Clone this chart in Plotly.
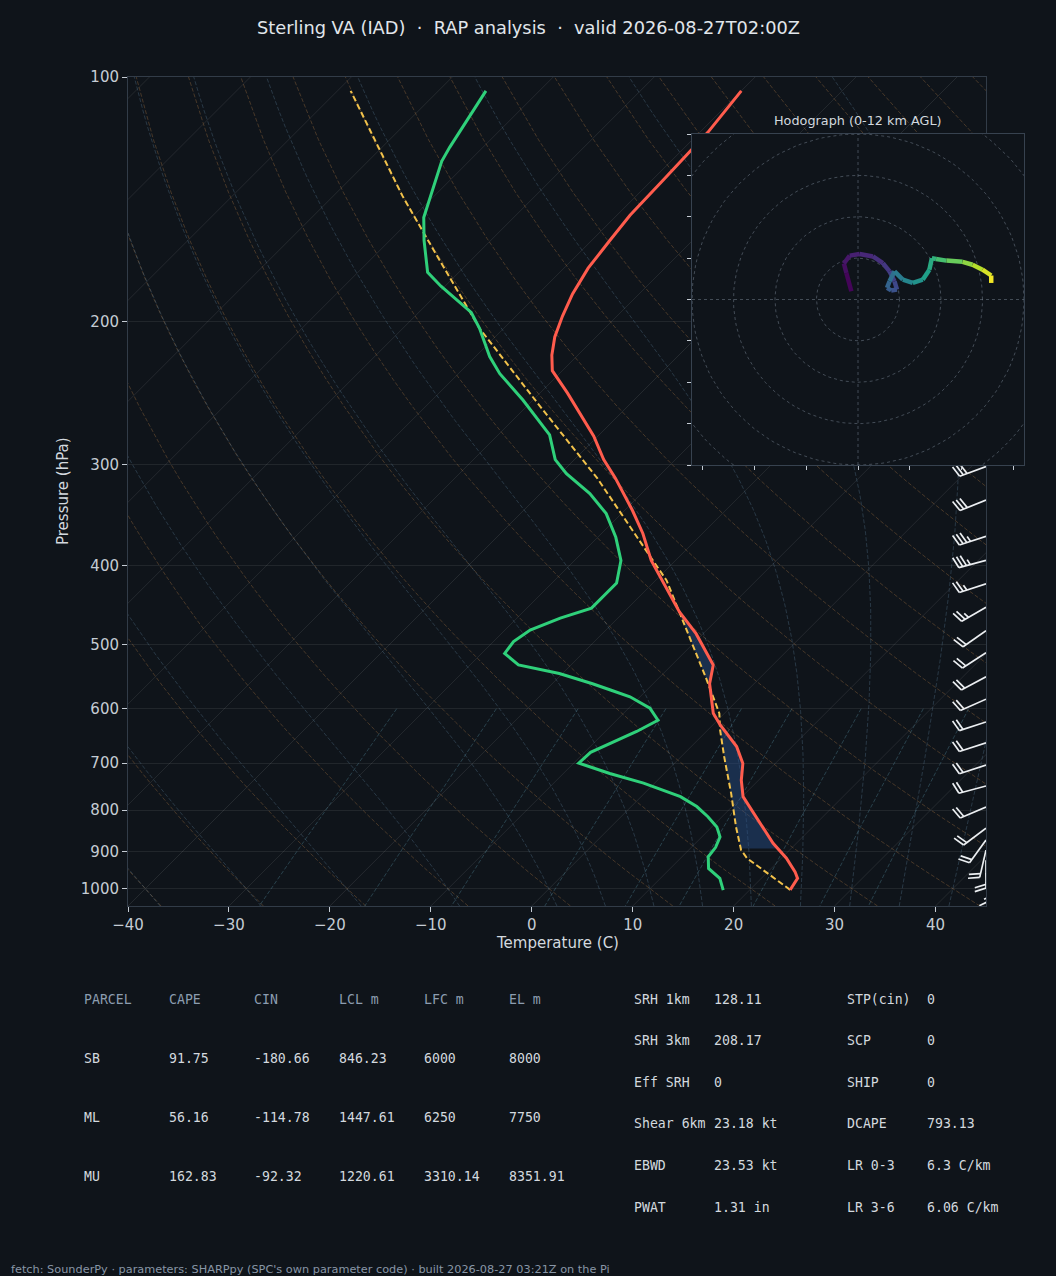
import numpy as np
import plotly.graph_objects as go
from plotly.colors import sample_colorscale

# ---------------- sounding values ----------------
temp_p = [1003, 971, 953, 917, 879, 807, 770, 735, 701, 668, 628, 608, 559, 530,
          485, 456, 420, 394, 365, 342, 312, 296, 277, 262, 245, 230, 220, 209,
          197, 185, 172, 159, 148, 134, 124, 117, 104]
temp_c = [24.0, 23.6, 22.7, 20.5, 17.7, 12.8, 10.1, 8.3, 6.8, 4.5, 0.7, -1.1, -4.4, -5.9,
          -10.7, -14.5, -18.9, -22.4, -25.9, -29.2, -34.1, -37.1, -40.4, -43.5, -47.3, -51.0, -52.6, -54.1,
          -55.4, -56.6, -57.6, -58.2, -58.7, -58.9, -59.1, -59.2, -60.0]

dwpt_p = [1004, 971, 944, 913, 889, 863, 839, 815, 792, 770, 741, 721, 700, 679,
          640, 620, 599, 580, 569, 559, 543, 530, 513, 496, 480, 464, 451, 420,
          394, 369, 345, 326, 308, 296, 276, 250, 232, 221, 204, 195, 181, 174,
          159, 149, 127, 122, 104]
dwpt_c = [17.4, 15.9, 13.8, 12.6, 12.4, 11.8, 10.5, 8.6, 6.5, 3.9, -1.1, -5.4, -9.5, -9.4,
          -6.9, -5.9, -7.9, -11.0, -13.6, -16.0, -20.3, -25.2, -27.7, -28.0, -27.5, -25.7, -23.6, -23.6,
          -25.4, -28.2, -31.5, -35.1, -39.4, -41.9, -44.9, -51.0, -55.9, -58.6, -62.4, -64.8, -70.4, -73.1,
          -76.6, -78.9, -82.7, -83.3, -85.3]

parcel_p = [1003, 917, 896, 839, 763, 688, 637, 608, 548, 494, 462, 417, 383, 342,
            312, 254, 204, 157, 140, 104]
parcel_c = [24.0, 16.6, 15.2, 12.4, 8.6, 4.3, 1.2, -0.5, -5.5, -10.6, -13.9, -18.9, -23.9, -30.5,
            -35.9, -48.8, -62.4, -76.9, -83.2, -98.7]

# CIN shading from LCL up to LFC (hPa)
shade_bot = 892
shade_top = 456

# wind barbs (hPa, direction from, kt)
barb_p = [302, 332, 368, 394, 421, 450, 481, 512, 548, 584, 623, 661, 704, 747,
          793, 842, 871, 896, 922, 956, 981]
barb_dir = [250, 248, 252, 255, 252, 240, 235, 237, 242, 246, 252, 252, 252, 255,
            247, 233, 216, 193, 180, 172, 155]
barb_kt = [30, 30, 35, 35, 25, 25, 20, 20, 20, 20, 20, 20, 20, 20,
           20, 20, 20, 20, 20, 15, 15]

# hodograph (kt) and height (km AGL)
hodo_u = [-1.6, -2.8, -3.4, -2.0, 0.4, 3.6, 6.0, 7.6, 8.8, 9.4, 8.0, 7.0, 7.6,
          8.8, 10.8, 13.2, 15.6, 17.2, 17.8, 18.8, 21.3, 25.2, 27.6, 30.0, 32.1, 32.1]
hodo_v = [2.0, 6.4, 8.7, 10.6, 11.0, 10.4, 8.8, 6.8, 4.4, 2.4, 2.2, 2.8, 4.4,
          6.8, 4.8, 4.0, 4.8, 7.2, 10.0, 9.8, 9.4, 9.1, 8.4, 7.2, 5.8, 4.0]
hodo_z = [0.0, 0.3, 0.6, 0.9, 1.2, 1.5, 1.8, 2.1, 2.4, 2.8, 3.2, 3.6, 4.0,
          4.6, 5.2, 5.8, 6.4, 7.0, 7.5, 8.0, 8.8, 9.6, 10.3, 11.0, 11.6, 12.0]

# parameter tables
parcel_names = ["SB", "ML", "MU"]
cape = [91.75, 56.16, 162.83]
cin = [-180.66, -114.78, -92.32]
lcl_m = [846.23, 1447.61, 1220.61]
lfc_m = [6000, 6250, 3310.14]
el_m = [8000, 7750, 8351.91]

kin_names = ["SRH 1km", "SRH 3km", "Eff SRH", "Shear 6km", "EBWD", "PWAT"]
kin_vals = ["128.11", "208.17", "0", "23.18 kt", "23.53 kt", "1.31 in"]
thermo_names = ["STP(cin)", "SCP", "SHIP", "DCAPE", "LR 0-3", "LR 3-6"]
thermo_vals = ["0", "0", "0", "793.13", "6.3 C/km", "6.06 C/km"]

# ---------------- geometry ----------------
W, H = 1056, 1276
X0, X1, Y0, Y1 = 128, 986, 77, 906          # skew-T plot box (px)
HX0, HX1, HY0, HY1 = 692, 1024, 134, 465     # hodograph box (px)
T_MIN, T_MAX = -40, 45
P_BOT, P_TOP = 1050.0, 100.0
PLOT_W, PLOT_H = X1 - X0, Y1 - Y0
DEC = np.log10(P_BOT / P_TOP)
SKEW = (PLOT_H / DEC) * ((T_MAX - T_MIN) / PLOT_W)   # 45 degree skew

BG = "#0f141a"
TXT = "#d3d9df"
TICK = "#c5ccd4"
HEAD = "#8c9db0"
SPINE = "#323c48"


def skx(t, p):
    return np.asarray(t, float) + SKEW * np.log10(P_BOT / np.asarray(p, float))


def fx(px):
    return px / W


def fy(py):
    return 1 - py / H


def join(lines):
    xs, ys = [], []
    for x, y in lines:
        xs += list(x) + [None]
        ys += list(y) + [None]
    return xs, ys


fig = go.Figure()

# isotherms
iso = []
for t in range(-130, 50, 10):
    pp = np.array([P_BOT, P_TOP])
    iso.append((skx([t, t], pp), pp))
xs, ys = join(iso)
fig.add_trace(go.Scatter(x=xs, y=ys, mode="lines", hoverinfo="skip",
                         line=dict(color="rgba(255,255,255,0.09)", width=1)))

# dry adiabats
pres = np.linspace(P_BOT, P_TOP, 50)
dry = []
for t0 in np.arange(T_MIN, T_MAX + 201, 10):
    t = (t0 + 273.15) * (pres / 1000.0) ** 0.2857 - 273.15
    dry.append((skx(t, pres), pres))
xs, ys = join(dry)
fig.add_trace(go.Scatter(x=xs, y=ys, mode="lines", hoverinfo="skip",
                         line=dict(color="rgba(190,130,70,0.32)", width=1, dash="4px,2px")))


# moist adiabats
def moist_rate(p, t):
    es = 6.112 * np.exp(17.67 * (t - 273.15) / (t - 29.65))
    rs = 0.622 * es / (p - es)
    return (287.04 * t + 2.501e6 * rs) / (1004.6 + 2.501e6 ** 2 * rs * 0.622 / (287.04 * t ** 2)) / p


def integrate(t0k, pgrid):
    out = np.empty((len(t0k), len(pgrid)))
    out[:, 0] = t0k
    for i in range(1, len(pgrid)):
        p0, h = pgrid[i - 1], pgrid[i] - pgrid[i - 1]
        y = out[:, i - 1]
        k1 = moist_rate(p0, y)
        k2 = moist_rate(p0 + h / 2, y + h / 2 * k1)
        k3 = moist_rate(p0 + h / 2, y + h / 2 * k2)
        k4 = moist_rate(p0 + h, y + h * k3)
        out[:, i] = y + h / 6 * (k1 + 2 * k2 + 2 * k3 + k4)
    return out


m_t0 = np.concatenate((np.arange(T_MIN, 0, 10), np.arange(0, T_MAX + 1, 5))) + 273.15
p_up = np.linspace(1000, P_TOP, 181)
p_dn = np.linspace(1000, P_BOT, 11)
t_up = integrate(m_t0, p_up)
t_dn = integrate(m_t0, p_dn)
p_all = np.concatenate((p_dn[::-1], p_up[1:]))
moist = []
for i in range(len(m_t0)):
    t = np.concatenate((t_dn[i, ::-1], t_up[i, 1:])) - 273.15
    moist.append((skx(t, p_all), p_all))
xs, ys = join(moist)
fig.add_trace(go.Scatter(x=xs, y=ys, mode="lines", hoverinfo="skip",
                         line=dict(color="rgba(100,140,170,0.3)", width=1, dash="4px,2px")))

# mixing ratio lines
mix = []
p_mix = np.linspace(600, P_BOT, 20)
for w in [0.0004, 0.001, 0.002, 0.004, 0.007, 0.01, 0.016, 0.024, 0.032]:
    e = p_mix * w / (0.622 + w)
    a = np.log(e / 6.112)
    td = 243.5 * a / (17.67 - a)
    mix.append((skx(td, p_mix), p_mix))
xs, ys = join(mix)
fig.add_trace(go.Scatter(x=xs, y=ys, mode="lines", hoverinfo="skip",
                         line=dict(color="rgba(90,150,170,0.35)", width=1, dash="4px,2px")))

# CIN shading between parcel and environment
tp = np.array(temp_p, float)
pp_ = np.array(parcel_p, float)
grid = np.unique(np.concatenate((tp, pp_, [shade_bot, shade_top])))
grid = grid[(grid <= shade_bot) & (grid >= shade_top)][::-1]
env_g = np.interp(np.log(grid), np.log(tp[::-1]), np.array(temp_c)[::-1])
par_g = np.interp(np.log(grid), np.log(pp_[::-1]), np.array(parcel_c)[::-1])
right = np.maximum(env_g, par_g)
fig.add_trace(go.Scatter(
    x=np.concatenate((skx(par_g, grid), skx(right, grid)[::-1])),
    y=np.concatenate((grid, grid[::-1])),
    mode="lines", fill="toself", fillcolor="rgba(40,80,140,0.45)",
    line=dict(width=0), hoverinfo="skip"))

# profiles
fig.add_trace(go.Scatter(x=skx(parcel_c, parcel_p), y=parcel_p, mode="lines",
                         line=dict(color="#f2c24b", width=2, dash="6px,3px")))
fig.add_trace(go.Scatter(x=skx(temp_c, temp_p), y=temp_p, mode="lines",
                         line=dict(color="#ff5c4d", width=3)))
fig.add_trace(go.Scatter(x=skx(dwpt_c, dwpt_p), y=dwpt_p, mode="lines",
                         line=dict(color="#2fd07a", width=3)))

# wind barbs on a pixel overlay
L = 28.0
bx, by = [], []
for p, wd, spd in zip(barb_p, barb_dir, barb_kt):
    base = np.array([PLOT_W, PLOT_H * np.log10(P_BOT / p) / DEC])
    th = np.radians(wd)
    d = np.array([np.sin(th), np.cos(th)])
    n = np.array([d[1], -d[0]])
    tip = base + L * d
    bx += [base[0], tip[0], None]
    by += [base[1], tip[1], None]
    s = 5 * int(round(spd / 5.0))
    nfull, half = s // 10, (s % 10) >= 5
    pos = L
    for k in range(nfull):
        b = base + pos * d
        e = b + 0.4 * L * n + 0.125 * L * d
        bx += [b[0], e[0], None]
        by += [b[1], e[1], None]
        pos -= 0.14 * L
    if half:
        if nfull == 0:
            pos -= 1.5 * 0.14 * L
        b = base + pos * d
        e = b + 0.2 * L * n + 0.0625 * L * d
        bx += [b[0], e[0], None]
        by += [b[1], e[1], None]
fig.add_trace(go.Scatter(x=bx, y=by, mode="lines", xaxis="x2", yaxis="y2", cliponaxis=False,
                         line=dict(color="#eceff2", width=1.7), hoverinfo="skip"))

# hodograph inset
R = 40
fig.add_trace(go.Scatter(x=[-R, R, R, -R, -R], y=[-R, -R, R, R, -R], mode="lines",
                         fill="toself", fillcolor=BG, line=dict(width=0),
                         xaxis="x3", yaxis="y3", hoverinfo="skip"))
ang = np.linspace(0, 2 * np.pi, 181)
rings = [(r * np.cos(ang), r * np.sin(ang)) for r in range(10, 60, 10)]
rings += [([-R, R], [0, 0]), ([0, 0], [-R, R])]
xs, ys = join(rings)
fig.add_trace(go.Scatter(x=xs, y=ys, mode="lines", xaxis="x3", yaxis="y3", hoverinfo="skip",
                         line=dict(color="rgba(130,145,160,0.45)", width=1, dash="3px,3px")))
for i in range(len(hodo_u) - 1):
    c = sample_colorscale("Viridis", [(hodo_z[i] + hodo_z[i + 1]) / 2 / 12.0])[0]
    fig.add_trace(go.Scatter(x=hodo_u[i:i + 2], y=hodo_v[i:i + 2], mode="lines",
                             xaxis="x3", yaxis="y3",
                             line=dict(color=c, width=4.5)))

# ---------------- layout ----------------
font = "DejaVu Sans"
mono = "DejaVu Sans Mono"
dom_x = [fx(X0), fx(X1)]
dom_y = [fy(Y1), fy(Y0)]
p_ticks = [100, 200, 300, 400, 500, 600, 700, 800, 900, 1000]
t_ticks = list(range(-40, 41, 10))

fig.update_layout(
    width=W, height=H, margin=dict(l=0, r=0, t=0, b=0, pad=0, autoexpand=False),
    paper_bgcolor=BG, plot_bgcolor="rgba(0,0,0,0)", showlegend=False,
    font=dict(family=font, color=TXT),
    xaxis=dict(domain=dom_x, range=[T_MIN, T_MAX], showgrid=False, zeroline=False,
               tickvals=t_ticks, ticktext=[str(t).replace("-", "\u2212") for t in t_ticks],
               ticks="outside", ticklen=5, tickcolor=TICK, tickfont=dict(size=15, color=TICK),
               showline=True, mirror=True, linecolor=SPINE, anchor="y", automargin=False),
    yaxis=dict(domain=dom_y, type="log", range=[np.log10(P_BOT), np.log10(P_TOP)],
               tickvals=p_ticks, ticktext=[str(p) for p in p_ticks],
               showgrid=True, gridcolor="rgba(255,255,255,0.08)", zeroline=False,
               ticks="outside", ticklen=5, tickcolor=TICK, tickfont=dict(size=15, color=TICK),
               showline=True, mirror=True, linecolor=SPINE, anchor="x", automargin=False),
    xaxis2=dict(domain=dom_x, range=[0, PLOT_W], visible=False, anchor="y2"),
    yaxis2=dict(domain=dom_y, range=[0, PLOT_H], visible=False, anchor="x2"),
    xaxis3=dict(domain=[fx(HX0), fx(HX1)], range=[-R, R], showgrid=False, zeroline=False,
                tickvals=list(np.arange(-37.5, 38, 12.5)), showticklabels=False,
                ticks="outside", ticklen=4, tickcolor=TICK,
                showline=True, mirror=True, linecolor="#37424f", anchor="y3"),
    yaxis3=dict(domain=[fy(HY1), fy(HY0)], range=[-R, R], showgrid=False, zeroline=False,
                tickvals=list(range(-40, 41, 10)), showticklabels=False,
                ticks="outside", ticklen=4, tickcolor=TICK,
                showline=True, mirror=True, linecolor="#37424f", anchor="x3"),
)

ann = []


def text(x, y, s, size, color=TXT, family=font, xanchor="left", angle=0):
    if xanchor == "left":
        x -= 2
    ann.append(dict(x=fx(x), y=fy(y), xref="paper", yref="paper", text=s, showarrow=False,
                    xanchor=xanchor, yanchor="middle", textangle=angle,
                    font=dict(size=size, color=color, family=family)))


sp = "\u00a0\u00a0"
text(528, 27, "Sterling VA (IAD)" + sp + "\u00b7" + sp + "RAP analysis" + sp + "\u00b7" + sp
     + "valid 2026-08-27T02:00Z", 17.8, color="#e1e6eb", xanchor="center")
text(557, 943, "Temperature (C)", 15, xanchor="center")
text(63, 491, "Pressure (hPa)", 15, xanchor="center", angle=-90)
text(858, 120, "Hodograph (0-12 km AGL)", 12.8, xanchor="center")

# parcel table
cols = [84, 169, 254, 339, 424, 509]
for x, h in zip(cols, ["PARCEL", "CAPE", "CIN", "LCL m", "LFC m", "EL m"]):
    text(x, 999, h, 13.2, color=HEAD, family=mono)
for r, name in enumerate(parcel_names):
    y = 1058 + 59 * r
    row = [name] + [f"{v:g}" for v in (cape[r], cin[r], lcl_m[r], lfc_m[r], el_m[r])]
    for x, s in zip(cols, row):
        text(x, y, s, 13.2, family=mono)

# index table
for r in range(len(kin_names)):
    y = 999 + 41.6 * r
    text(634, y, kin_names[r], 13.2, family=mono)
    text(714, y, kin_vals[r], 13.2, family=mono)
    text(847, y, thermo_names[r], 13.2, family=mono)
    text(927, y, thermo_vals[r], 13.2, family=mono)

text(11, 1269, "fetch: SounderPy \u00b7 parameters: SHARPpy (SPC's own parameter code) \u00b7 "
     "built 2026-08-27 03:21Z on the Pi", 11.3, color="#8896a6")

fig.update_layout(annotations=ann)
fig.write_html("out.html", config={"displayModeBar": False},
               post_script="document.body.style.margin='0';"
               "document.body.style.overflow='hidden';"
               "document.body.style.background='" + BG + "';")
